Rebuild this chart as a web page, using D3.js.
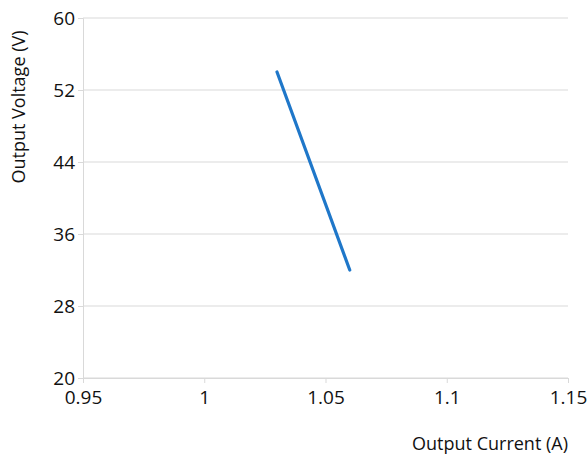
<!DOCTYPE html>
<html><head><meta charset="utf-8">
<script src="https://cdn.jsdelivr.net/npm/d3@7"></script>
<style>body{margin:0;background:#fff}text{font-family:"Open Sans",sans-serif;fill:#111}</style>
</head><body><svg id="c" width="587" height="462"></svg>
<script>
const currents = [1.03, 1.06];
const voltages = [54, 32];
const xTicks = [0.95, 1, 1.05, 1.1, 1.15];
const yTicks = [20, 28, 36, 44, 52, 60];
const xLabel = "Output Current (A)";
const yLabel = "Output Voltage (V)";

const svg = d3.select("#c");
const m = {l:83, r:19, t:18, b:84};
const W = 587, H = 462;
const x = d3.scaleLinear().domain([0.95,1.15]).range([m.l, W-m.r]);
const y = d3.scaleLinear().domain([20,60]).range([H-m.b, m.t]);
const grid = "#d9d9d9";

const gy = svg.append("g").attr("transform",`translate(${m.l},0)`)
  .call(d3.axisLeft(y).tickValues(yTicks).tickSize(5).tickFormat(d3.format("d")));
gy.select(".domain").attr("stroke", grid);
gy.selectAll(".tick line").attr("stroke", grid);
gy.selectAll(".tick text").attr("font-size","19px").attr("x",-8).attr("fill","#111");
svg.append("g").selectAll("line").data(yTicks).join("line")
  .attr("x1", m.l).attr("x2", W-m.r).attr("y1", d=>y(d)).attr("y2", d=>y(d))
  .attr("stroke", grid);

const gx = svg.append("g").attr("transform",`translate(0,${H-m.b})`)
  .call(d3.axisBottom(x).tickValues(xTicks).tickSize(5).tickFormat(d=>String(d)));
gx.select(".domain").attr("stroke", grid);
gx.selectAll(".tick line").attr("stroke", grid);
gx.selectAll(".tick text").attr("font-size","19px").attr("dy","0.95em").attr("fill","#111");

const line = d3.line().x((d,i)=>x(currents[i])).y(d=>y(d));
svg.append("path").datum(voltages).attr("d", line)
  .attr("fill","none").attr("stroke","#1f77c9").attr("stroke-width",3.2).attr("stroke-linecap","round");

svg.append("text").attr("x", W-m.r).attr("y", 450).attr("text-anchor","end")
  .attr("font-size","18px").text(xLabel);
svg.append("text").attr("transform","translate(25,107) rotate(-90)").attr("text-anchor","middle")
  .attr("font-size","18px").text(yLabel);
</script></body></html>
